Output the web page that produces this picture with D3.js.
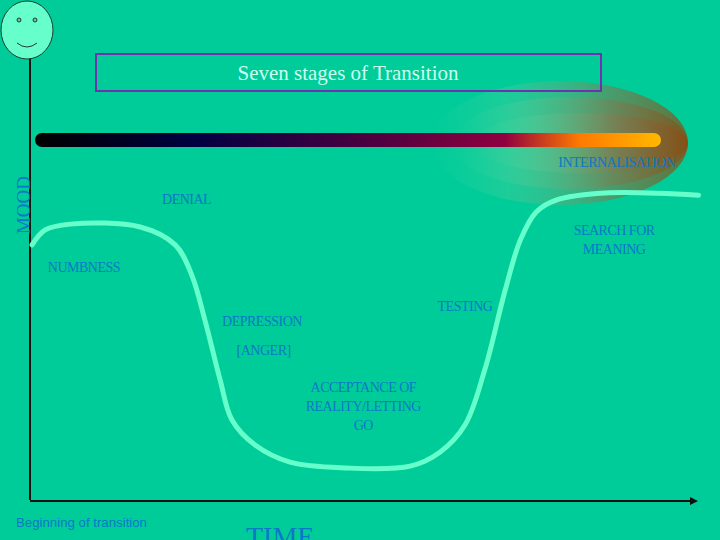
<!DOCTYPE html>
<html lang="en">
<head>
<meta charset="UTF-8">
<title>Seven stages of Transition</title>
<script src="https://d3js.org/d3.v7.min.js"></script>
<style>
  body {margin: 0; background: #00cc99}
  text {font-family: 'Liberation Serif', 'Times New Roman', serif; fill: #0a78c8}
  .stage {font-size: 14px; letter-spacing: -0.5px}
</style>
</head>
<body>
<script>
const width = 720, height = 540;

// mood curve: time 0..100, mood 0..100
const curveTime = [0, 2, 5.8, 16.4, 21.7, 24.2, 26.2, 28.5, 30.3, 33.8, 39.1, 47.4, 57.3, 61.8, 65.6, 68.6, 71.7, 74, 76.4, 79.4, 86.8, 101];
const curveMood = [70.7, 74.9, 76.5, 75.7, 70.7, 62.3, 49.7, 33, 21.8, 14.8, 10, 8.4, 8.9, 12.8, 20.4, 35.8, 58.1, 72.1, 79.9, 83.2, 85.2, 84.6];

// stage labels: [time, mood] of anchor, text lines, anchor
const stageNames = [["INTERNALISATION"], ["DENIAL"], ["SEARCH FOR", "MEANING"], ["NUMBNESS"], ["TESTING"],
                    ["DEPRESSION"], ["[ANGER]"], ["ACCEPTANCE OF", "REALITY/LETTING", "GO"]];
const stageTime = [88.6, 19.7, 88.2, 2.4, 65.6, 28.8, 31, 50.2];
const stageMood = [92.5, 82, 73.5, 63, 52.2, 48, 40, 29.5];
const stageAnchor = ["middle", "start", "middle", "start", "middle", "start", "start", "middle"];

const x = d3.scaleLinear().domain([0, 100]).range([32, 692]);
const y = d3.scaleLinear().domain([0, 100]).range([498, 140]);

const svg = d3.select("body").append("svg").attr("width", width).attr("height", height);
const defs = svg.append("defs");

// bar gradient
const bg = defs.append("linearGradient").attr("id", "bar");
[[0, "#000000"], [0.25, "#000040"], [0.55, "#500040"], [0.75, "#900040"], [0.87, "#ff7a00"], [1, "#ffb800"]]
  .forEach(s => bg.append("stop").attr("offset", s[0]).attr("stop-color", s[1]));
// glow gradient
const gg = defs.append("linearGradient").attr("id", "glow");
[[0, "#66ddaa", 0], [0.3, "#77cc99", 0.35], [0.7, "#8a7045", 0.75], [1, "#8a4a10", 1]]
  .forEach(s => gg.append("stop").attr("offset", s[0]).attr("stop-color", s[1]).attr("stop-opacity", s[2]));

// glow behind the bar end
[[118, 62, 0.7], [108, 46, 0.6], [98, 30, 0.6]].forEach(([rx, ry, o]) => {
  svg.append("ellipse").attr("cx", 678 - rx).attr("cy", 143).attr("rx", rx + 10).attr("ry", ry)
    .attr("fill", "url(#glow)").attr("opacity", o);
});

// axes
svg.append("line").attr("x1", 30).attr("x2", 30).attr("y1", 56).attr("y2", 500).attr("stroke", "#111").attr("stroke-width", 2);
svg.append("line").attr("x1", 30).attr("x2", 692).attr("y1", 501).attr("y2", 501).attr("stroke", "#111").attr("stroke-width", 2);
svg.append("path").attr("d", "M690,497 L698,501 L690,505 Z").attr("fill", "#111");

// smiley
svg.append("ellipse").attr("cx", 27).attr("cy", 30).attr("rx", 26).attr("ry", 29).attr("fill", "#66ffcc").attr("stroke", "#1a4030");
[19, 35].forEach(cx => svg.append("circle").attr("cx", cx).attr("cy", 20).attr("r", 2).attr("fill", "#66cc99").attr("stroke", "#1a4030"));
svg.append("path").attr("d", "M17,43 Q27,51 37,43").attr("fill", "none").attr("stroke", "#1a4030");

// title
svg.append("rect").attr("x", 96).attr("y", 54).attr("width", 505).attr("height", 37)
  .attr("fill", "none").attr("stroke", "#7030b0").attr("stroke-width", 2);
svg.append("text").attr("x", 348).attr("y", 80).attr("text-anchor", "middle")
  .style("font-size", "21px").style("fill", "#ccffee").text("Seven stages of Transition");

// bar
svg.append("rect").attr("x", 35).attr("y", 133).attr("width", 626).attr("height", 14).attr("rx", 7)
  .attr("fill", "url(#bar)");

// mood curve
const line = d3.line().x(d => x(d[0])).y(d => y(d[1])).curve(d3.curveCatmullRom);
svg.append("path").datum(d3.zip(curveTime, curveMood)).attr("d", line)
  .attr("fill", "none").attr("stroke", "#66ffcc").attr("stroke-width", 5).attr("stroke-linecap", "round");

// stage labels
stageNames.forEach((lines, i) => {
  const t = svg.append("text").attr("class", "stage").attr("text-anchor", stageAnchor[i])
    .attr("x", x(stageTime[i])).attr("y", y(stageMood[i]));
  lines.forEach((s, j) => t.append("tspan").attr("x", x(stageTime[i])).attr("dy", j ? 19 : 0).text(s));
});

// axis titles
svg.append("text").attr("transform", "translate(30,205) rotate(-90)").attr("text-anchor", "middle")
  .style("font-size", "19px").text("MOOD");
svg.append("text").attr("x", 16).attr("y", 527).style("font-family", "'Liberation Sans', sans-serif")
  .style("font-size", "13px").attr("textLength", 131).attr("lengthAdjust", "spacingAndGlyphs").text("Beginning of transition");
svg.append("text").attr("x", 246).attr("y", 546).style("font-size", "28px").text("TIME");
</script>
</body>
</html>
